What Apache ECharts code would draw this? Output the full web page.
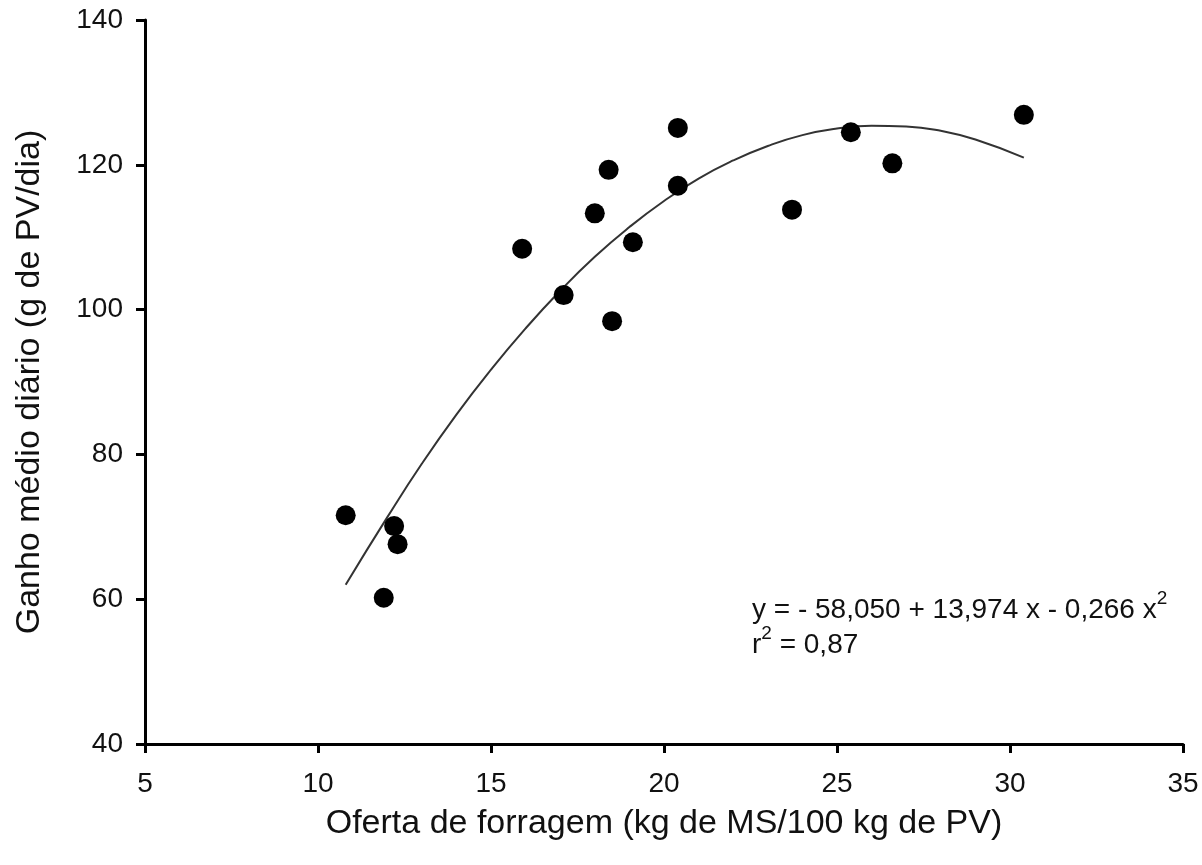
<!DOCTYPE html>
<html>
<head>
<meta charset="utf-8">
<script src="https://cdn.jsdelivr.net/npm/echarts@6/dist/echarts.min.js"></script>
<style>
  html, body { margin: 0; padding: 0; background: #fff; }
  #chart { width: 1202px; height: 865px; }
</style>
</head>
<body>
<div id="chart"></div>
<script>
const oferta = [10.8, 11.9, 12.2, 12.3, 15.9, 17.1, 18.0, 18.4, 18.5, 19.1, 20.4, 20.4, 23.7, 25.4, 26.6, 30.4];
const ganho = [71.6, 60.2, 70.1, 67.6, 108.4, 102.0, 113.3, 119.3, 98.4, 109.3, 125.1, 117.1, 113.8, 124.5, 120.2, 126.9];

// fitted curve, read at points along the drawn line
const curveX = [10.8, 12, 13, 14, 15, 16, 17, 18, 19, 20, 21, 22, 23, 24, 25, 26, 27, 28, 29, 30.4];
const curveY = [62.0, 71.3, 78.7, 85.5, 91.7, 97.4, 102.6, 107.3, 111.4, 115.0, 118.1, 120.6, 122.6, 124.1, 125.0, 125.4, 125.3, 124.7, 123.5, 121.0];

const xTicks = [5, 35, 5];   // min, max, step
const yTicks = [40, 140, 20];

const font = 'Liberation Sans, Arial, sans-serif';

let chart = echarts.init(document.getElementById('chart'));

chart.setOption({
  animation: false,
  backgroundColor: '#fff',
  grid: { left: 145, right: 19, top: 20, bottom: 121 },
  xAxis: {
    type: 'value',
    min: xTicks[0], max: xTicks[1], interval: xTicks[2],
    name: 'Oferta de forragem (kg de MS/100 kg de PV)',
    nameLocation: 'middle',
    nameGap: 63,
    nameTextStyle: { fontFamily: font, fontSize: 34, color: '#111' },
    axisLine: { lineStyle: { color: '#000', width: 3 } },
    axisTick: { length: 9, lineStyle: { color: '#000', width: 3 } },
    axisLabel: { fontFamily: font, fontSize: 28, color: '#111', margin: 26 },
    splitLine: { show: false }
  },
  yAxis: {
    type: 'value',
    min: yTicks[0], max: yTicks[1], interval: yTicks[2],
    name: 'Ganho médio diário (g de PV/dia)',
    nameLocation: 'middle',
    nameGap: 98,
    nameTextStyle: { fontFamily: font, fontSize: 34, color: '#111' },
    axisLine: { show: true, lineStyle: { color: '#000', width: 3 } },
    axisTick: { show: true, length: 9, lineStyle: { color: '#000', width: 3 } },
    axisLabel: { fontFamily: font, fontSize: 28, color: '#111', margin: 22 },
    splitLine: { show: false }
  },
  series: [
    {
      name: 'ajuste',
      type: 'line',
      data: curveX.map((x, i) => [x, curveY[i]]),
      smooth: true,
      showSymbol: false,
      lineStyle: { color: '#333', width: 2 },
      z: 2
    },
    {
      name: 'observado',
      type: 'scatter',
      data: oferta.map((x, i) => [x, ganho[i]]),
      symbolSize: 20,
      itemStyle: { color: '#000', opacity: 1 },
      z: 3
    }
  ],
  graphic: [
    {
      type: 'text',
      left: 752,
      top: 589,
      style: {
        text: '{t|y = - 58,050 + 13,974 x - 0,266 x}{s|2}\n{t|r}{s|2}{t| = 0,87}',
        fill: '#111',
        rich: {
          t: { fontFamily: font, fontSize: 28, lineHeight: 35, verticalAlign: 'bottom', fill: '#111' },
          s: { fontFamily: font, fontSize: 19, lineHeight: 35, verticalAlign: 'top', fill: '#111' }
        }
      }
    }
  ]
});
</script>
</body>
</html>
